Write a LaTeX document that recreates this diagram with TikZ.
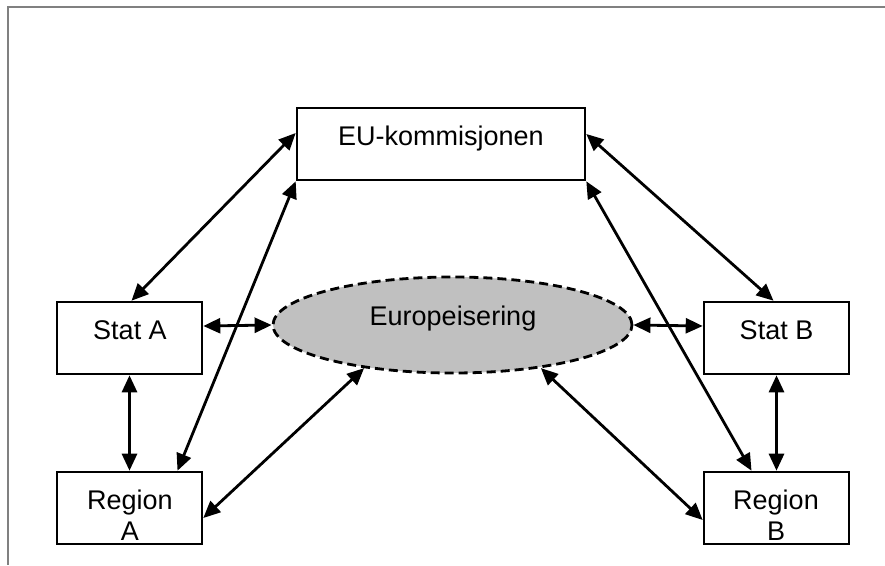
\documentclass[tikz,border=0pt]{standalone}
\usepackage{fontspec}
\setmainfont{Liberation Sans}
\usetikzlibrary{arrows.meta,shapes.geometric}
\begin{document}
\begin{tikzpicture}[x=1pt,y=-1pt,
  box/.style={draw=black,line width=2.6pt,fill=white,minimum width=145pt,minimum height=72pt,inner sep=0pt},
  lbl/.style={anchor=base,inner sep=0pt,font=\fontsize{27}{31}\selectfont,align=center},
  conn/.style={line width=2.8pt,{Triangle[length=17pt,width=15pt]}-{Triangle[length=17pt,width=15pt]}},
  frame/.style={draw=black!50,line width=2.6pt}]
\useasboundingbox (0,0) rectangle (885,565);
\draw[frame] (885,7) -- (8,7) -- (8,565);
% boxes
\node[box,minimum width=288pt] (eu) at (441,144) {};
\node[box] (sa) at (129.5,338) {};
\node[box] (ra) at (129.5,508) {};
\node[box] (sb) at (776.5,338) {};
\node[box] (rb) at (776.5,508) {};
\node[draw=black,line width=2.8pt,dash pattern=on 9pt off 5pt,fill={rgb,255:red,192;green,192;blue,192},ellipse,minimum width=359pt,minimum height=96pt,inner sep=0pt] (eur) at (452.5,325) {};
% labels
\node[lbl] (tEU) at (441,145) {EU-kommisjonen};
\node[lbl] (tSA) at (130,339) {Stat A};
\node[lbl] (tSB) at (776.5,339) {Stat B};
\node[lbl] (tEur) at (453,325) {Europeisering};
\node[lbl] (tRA1) at (130,509) {Region};
\node[lbl] (tRA2) at (130,540) {A};
\node[lbl] (tRB1) at (776,509) {Region};
\node[lbl] (tRB2) at (776,540) {B};
% connectors
\draw[conn] ([yshift=11pt]eu.west) -- ([xshift=2pt]sa.north);
\draw[conn] ([xshift=48pt]ra.north) -- (eu.south west);
\draw[conn] ([yshift=12pt]sa.east) -- (eur.west);
\draw[conn] (sa.south) -- (ra.north);
\draw[conn] ([yshift=-10pt]ra.east) -- (eur.206);
\draw[conn] ([yshift=10pt]eu.east) -- ([xshift=-3pt]sb.north);
\draw[conn] ([xshift=-25pt]rb.north) -- (eu.south east);
\draw[conn] (sb.south) -- (rb.north);
\draw[conn] (eur.east) -- ([yshift=12pt]sb.west);
\draw[conn] (eur.334) -- ([yshift=-12pt]rb.west);
\end{tikzpicture}
\end{document}
